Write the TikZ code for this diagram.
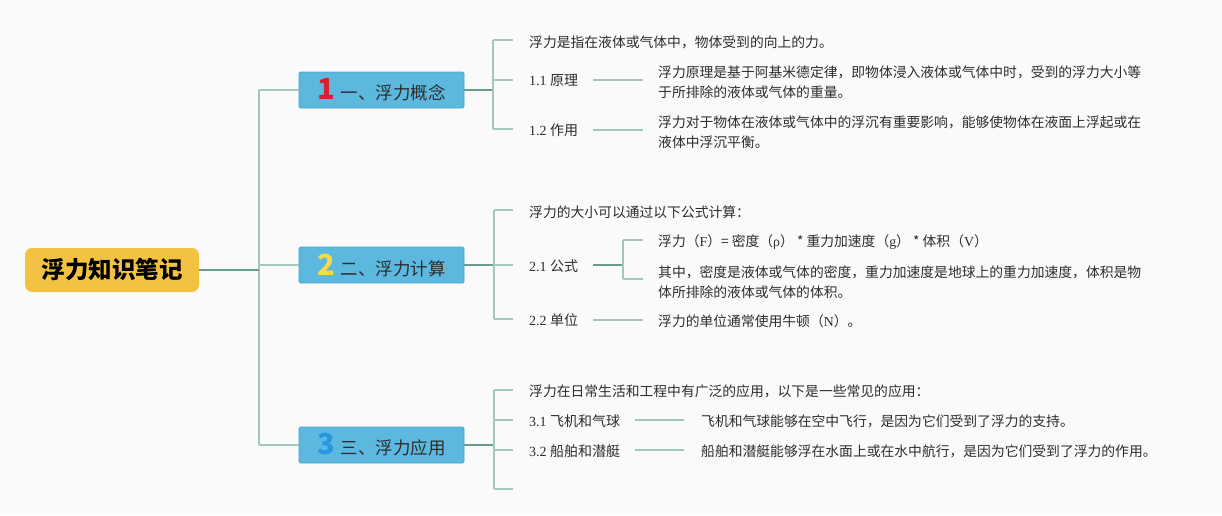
\documentclass[tikz,border=0pt]{standalone}
\usepackage{fontspec}
\setmainfont{Liberation Serif}
\newfontfamily\cjk{Noto Sans CJK SC}
\definecolor{bgc}{RGB}{250,250,250}
\definecolor{lightln}{RGB}{160,201,188}
\definecolor{darkln}{RGB}{104,158,140}
\definecolor{boxfill}{RGB}{92,184,222}
\definecolor{boxdraw}{RGB}{78,163,200}
\definecolor{rootfill}{RGB}{244,194,66}
\definecolor{txt}{RGB}{45,45,45}
\definecolor{numred}{RGB}{214,32,46}
\definecolor{numyel}{RGB}{246,218,74}
\definecolor{numblue}{RGB}{40,150,225}
\tikzset{
  rootbox/.style={fill=rootfill, rounded corners=7pt, minimum width=174pt, minimum height=44pt, inner sep=0pt,
    font=\cjk\bfseries\fontsize{23.5}{26}\selectfont, text=black},
  secbox/.style={fill=boxfill, draw=boxdraw, line width=0.8pt, rounded corners=1.5pt, minimum width=165pt, minimum height=36pt, inner sep=0pt,
    font=\cjk\fontsize{17.5}{20}\selectfont, text=txt},
  lt/.style={draw=lightln, line width=1.6pt},
  dk/.style={draw=darkln, line width=2pt},
  tx/.style={anchor=west, inner sep=0pt, text=txt, font=\cjk\fontsize{13.8}{20}\selectfont, align=left},
  lb/.style={anchor=west, inner sep=0pt, text=txt, font=\fontsize{14}{20}\selectfont},
}
\newcommand{\numd}[2]{{\cjk\bfseries\fontsize{29}{29}\selectfont\color{#1}#2}\hspace{6pt}}
\begin{document}
\begin{tikzpicture}[x=1pt,y=-1pt]
\fill[bgc] (0,0) rectangle (1222,515);
\useasboundingbox (0,0) rectangle (1222,515);

% root and sections
\node[rootbox] (root) at (112,270) {浮力知识笔记};
\node[secbox] (b1) at (381.5,90) {\numd{numred}{1}一、浮力概念};
\node[secbox] (b2) at (381.5,265) {\numd{numyel}{2}二、浮力计算};
\node[secbox] (b3) at (381.5,445) {\numd{numblue}{3}三、浮力应用};

% trunk
\coordinate (j0) at (259,270);
\coordinate (j1) at (259,90);
\coordinate (j2) at (259,265);
\coordinate (j3) at (259,445);
\draw[lt] (j1) -- (j3);
\draw[lt] (j1) -- (b1.west);
\draw[lt] (j2) -- (b2.west);
\draw[lt] (j3) -- (b3.west);
\draw[dk] (root.east) -- (j0);

% ---------- section 1
\coordinate (s1) at (493,90);
\coordinate (s1a) at (493,40);
\coordinate (s1b) at (493,80);
\coordinate (s1c) at (493,129);
\draw[dk] (b1.east) -- (s1);
\draw[lt] (s1a) -- (s1c);
\coordinate (e1a) at (513,40);
\coordinate (e1b) at (513,80);
\coordinate (e1c) at (513,129);
\draw[lt] (s1a) -- (e1a);
\draw[lt] (s1b) -- (e1b);
\draw[lt] (s1c) -- (e1c);
\node[tx] (t1) at (529,42) {浮力是指在液体或气体中，物体受到的向上的力。};
\node[lb] (l11) at (529,80) {1.1 {\cjk 原理}};
\node[lb] (l12) at (529,130) {1.2 {\cjk 作用}};
\node[tx] (d11) at (658,82) {浮力原理是基于阿基米德定律，即物体浸入液体或气体中时，受到的浮力大小等\\于所排除的液体或气体的重量。};
\node[tx] (d12) at (658,132) {浮力对于物体在液体或气体中的浮沉有重要影响，能够使物体在液面上浮起或在\\液体中浮沉平衡。};
\coordinate (p11a) at (593,80);
\coordinate (p11b) at (643,80);
\coordinate (p12a) at (593,130);
\coordinate (p12b) at (643,130);
\draw[lt] (p11a) -- (p11b);
\draw[lt] (p12a) -- (p12b);

% ---------- section 2
\coordinate (s2) at (494,265);
\coordinate (s2a) at (494,210);
\coordinate (s2c) at (494,319);
\draw[dk] (b2.east) -- (s2);
\draw[lt] (s2a) -- (s2c);
\coordinate (e2a) at (513,210);
\coordinate (e2b) at (513,265);
\coordinate (e2c) at (513,319);
\draw[lt] (s2a) -- (e2a);
\draw[lt] (s2) -- (e2b);
\draw[lt] (s2c) -- (e2c);
\node[tx] (t2) at (529,212) {浮力的大小可以通过以下公式计算：};
\node[lb] (l21) at (529,266) {2.1 {\cjk 公式}};
\node[lb] (l22) at (529,320) {2.2 {\cjk 单位}};
\coordinate (p21a) at (593,265);
\coordinate (p21b) at (623,265);
\coordinate (q1) at (623,240);
\coordinate (q2) at (623,279);
\coordinate (q1e) at (643,240);
\coordinate (q2e) at (643,279);
\draw[dk, line width=1.8pt] (p21a) -- (p21b);
\draw[lt] (q1) -- (q2);
\draw[lt] (q1) -- (q1e);
\draw[lt] (q2) -- (q2e);
\node[tx] (f1) at (658,242) {浮力（{\rmfamily F}）= 密度（{\rmfamily ρ}） * 重力加速度（{\rmfamily g}） * 体积（{\rmfamily V}）};
\node[tx] (f2) at (658,282) {其中，密度是液体或气体的密度，重力加速度是地球上的重力加速度，体积是物\\体所排除的液体或气体的体积。};
\coordinate (p22a) at (593,320);
\coordinate (p22b) at (643,320);
\draw[lt] (p22a) -- (p22b);
\node[tx] (d22) at (658,321) {浮力的单位通常使用牛顿（{\rmfamily N}）。};

% ---------- section 3
\coordinate (s3) at (494,445);
\coordinate (s3a) at (494,390);
\coordinate (s3b) at (494,420);
\coordinate (s3c) at (494,450);
\coordinate (s3d) at (494,489);
\draw[dk] (b3.east) -- (s3);
\draw[lt] (s3a) -- (s3d);
\coordinate (e3a) at (513,390);
\coordinate (e3b) at (513,420);
\coordinate (e3c) at (513,450);
\coordinate (e3d) at (513,489);
\draw[lt] (s3a) -- (e3a);
\draw[lt] (s3b) -- (e3b);
\draw[lt] (s3c) -- (e3c);
\draw[lt] (s3d) -- (e3d);
\node[tx] (t3) at (529,391) {浮力在日常生活和工程中有广泛的应用，以下是一些常见的应用：};
\node[lb] (l31) at (529,421) {3.1 {\cjk 飞机和气球}};
\node[lb] (l32) at (529,451) {3.2 {\cjk 船舶和潜艇}};
\coordinate (p31a) at (635,420);
\coordinate (p31b) at (684,420);
\coordinate (p32a) at (635,450);
\coordinate (p32b) at (684,450);
\draw[lt] (p31a) -- (p31b);
\draw[lt] (p32a) -- (p32b);
\node[tx] (d31) at (701,421) {飞机和气球能够在空中飞行，是因为它们受到了浮力的支持。};
\node[tx] (d32) at (701,451) {船舶和潜艇能够浮在水面上或在水中航行，是因为它们受到了浮力的作用。};
\end{tikzpicture}
\end{document}
